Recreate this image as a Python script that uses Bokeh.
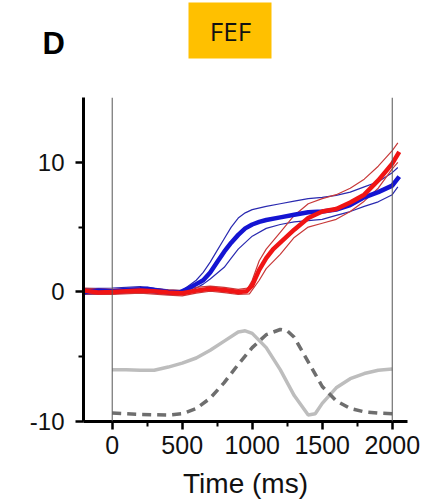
from bokeh.plotting import figure
from bokeh.models import Span, FixedTicker, Range1d, PrintfTickFormatter
from bokeh.layouts import column
from bokeh.core.properties import value
from bokeh.embed import file_html
from bokeh.resources import INLINE

# ---- data ----
blue_x = [-200, -100, 0, 100, 200, 250, 300, 400, 480, 550, 600, 650, 700, 750, 800, 850, 900, 950,
          1000, 1050, 1100, 1200, 1300, 1400, 1500, 1600, 1700, 1800, 1900, 2000, 2050]
blue_mean = [0.0, 0.1, 0.05, 0.15, 0.2, 0.25, 0.15, 0.0, -0.05, 0.3, 0.6, 0.9, 1.5, 2.3, 3.1, 3.8, 4.4, 4.9,
             5.2, 5.4, 5.55, 5.75, 5.95, 6.15, 6.2, 6.35, 6.7, 7.3, 7.7, 8.2, 8.9]

blue_up_x = [-200, 0, 200, 400, 500, 600, 650, 700, 750, 800, 850, 900, 950, 1000, 1100, 1200, 1300,
             1400, 1500, 1600, 1700, 1800, 1900, 2000, 2040]
blue_upper = [0.25, 0.3, 0.4, 0.15, 0.1, 0.9, 1.5, 2.3, 3.2, 4.1, 5.0, 5.7, 6.1, 6.35, 6.6, 6.8, 7.0,
              7.2, 7.3, 7.45, 7.7, 8.1, 8.5, 9.2, 9.6]

blue_lo_x = [-200, 0, 200, 400, 500, 600, 650, 700, 800, 850, 900, 1000, 1100, 1200, 1300, 1400, 1500,
             1600, 1700, 1800, 1900, 2000, 2040]
blue_lower = [-0.2, -0.15, 0.0, -0.2, -0.2, 0.3, 0.6, 1.0, 1.9, 2.6, 3.3, 4.3, 4.9, 5.2, 5.4, 5.5, 5.6,
              5.9, 6.2, 6.6, 6.95, 7.5, 8.1]

red_x = [-200, -100, 0, 100, 200, 300, 400, 500, 600, 700, 800, 900, 960, 1000, 1050, 1100, 1150, 1200,
         1300, 1400, 1500, 1600, 1700, 1800, 1900, 2000, 2050]
red_mean = [0.1, -0.05, 0.0, 0.05, 0.1, 0.05, -0.05, -0.1, 0.1, 0.25, 0.15, 0.0, 0.05, 0.5, 1.7, 2.6, 3.3, 3.8,
            4.8, 5.7, 6.2, 6.4, 6.9, 7.5, 8.6, 9.9, 10.8]

red_up_x = [-200, 0, 200, 400, 500, 600, 700, 800, 900, 970, 1000, 1050, 1100, 1200, 1300, 1400, 1500,
            1600, 1700, 1800, 1900, 2000, 2040]
red_upper = [0.3, 0.2, 0.3, 0.15, 0.1, 0.35, 0.45, 0.35, 0.2, 0.3, 0.9, 2.4, 3.3, 4.6, 5.9, 6.8, 7.2,
             7.5, 8.0, 8.7, 9.7, 10.9, 11.5]

red_lo_x = [-200, 0, 200, 400, 500, 600, 700, 800, 900, 980, 1050, 1100, 1200, 1300, 1400, 1500,
            1600, 1700, 1800, 1900, 2000, 2040]
red_lower = [-0.15, -0.2, -0.1, -0.25, -0.3, -0.1, 0.05, -0.05, -0.2, -0.15, 0.9, 1.8, 2.9, 4.2, 5.0, 5.3,
             5.6, 6.2, 7.0, 8.0, 9.5, 10.0]

gray_x = [0, 100, 200, 300, 400, 500, 600, 700, 800, 900, 950, 1000, 1100, 1200, 1300, 1400, 1450,
          1500, 1600, 1700, 1800, 1900, 2000]
gray_solid = [-6.0, -6.0, -6.05, -6.05, -5.8, -5.5, -5.1, -4.5, -3.8, -3.1, -3.0, -3.2, -4.3, -6.0, -8.0,
              -9.5, -9.4, -8.6, -7.4, -6.7, -6.3, -6.05, -5.95]

dash_x = [0, 200, 400, 500, 600, 700, 800, 900, 1000, 1100, 1200, 1250, 1300, 1400, 1500, 1600, 1700,
          1800, 1900, 2000]
gray_dashed = [-9.35, -9.45, -9.5, -9.4, -9.0, -8.2, -7.0, -5.6, -4.3, -3.3, -2.9, -3.0, -3.5, -5.4, -7.3,
               -8.4, -9.0, -9.25, -9.35, -9.4]

x_ticks = [0, 500, 1000, 1500, 2000]
x_minor = [250, 750, 1250, 1750]
y_ticks = [-10, 0, 10]
y_minor = [-5, 5]
event_times = [0, 2000]

panel_letter = "D"
area_name = "FEF"

FONT = "Liberation Sans"
W = 424
HEAD_H = 92

# ---- header (panel letter and area badge) ----
h = figure(frame_width=W, frame_height=HEAD_H, output_backend="svg", toolbar_location=None, title=None,
           x_range=Range1d(0, W), y_range=Range1d(HEAD_H, 0),
           x_axis_location=None, y_axis_location=None,
           min_border=0, min_border_left=0, min_border_right=0, min_border_top=0, min_border_bottom=0)
h.frame_align = False
h.outline_line_color = None
h.xgrid.visible = False
h.ygrid.visible = False
h.quad(left=[188], right=[271], top=[2], bottom=[58], fill_color="#FFC000", line_color=None)
h.text(x=[230], y=[30], text=[area_name], text_align="center", text_baseline="middle",
       text_font=value("Open Sans"), text_font_size="26px", text_color="#111111")
h.text(x=[42], y=[43], text=[panel_letter], text_align="left", text_baseline="alphabetic",
       text_font=value(FONT), text_font_size="31px", text_font_style="bold", text_color="black")

# ---- main plot ----
p = figure(width=W, height=504 - HEAD_H, output_backend="svg", toolbar_location=None, title=None,
           x_range=Range1d(-205, 2109), y_range=Range1d(-10, 15),
           min_border_left=83, min_border_right=17, min_border_top=97 - HEAD_H, min_border_bottom=83)
p.frame_align = False
p.outline_line_color = None
p.xgrid.visible = False
p.ygrid.visible = False

for t in event_times:
    p.add_layout(Span(location=t, dimension="height", line_color="#555555", line_width=1))

p.line(gray_x, gray_solid, line_color="#BDBDBD", line_width=3.5)
p.line(dash_x, gray_dashed, line_color="#6E6E6E", line_width=3.5, line_dash="9 6")

p.line(blue_up_x, blue_upper, line_color="#2A2AB0", line_width=1.2)
p.line(blue_lo_x, blue_lower, line_color="#2A2AB0", line_width=1.2)
p.line(red_up_x, red_upper, line_color="#C83A3A", line_width=1.2)
p.line(red_lo_x, red_lower, line_color="#C83A3A", line_width=1.2)
p.line(blue_x, blue_mean, line_color="#1414D2", line_width=4.5)
p.line(red_x, red_mean, line_color="#F01414", line_width=4.5)

for ax in (p.xaxis[0], p.yaxis[0]):
    ax.axis_line_width = 3
    ax.axis_line_color = "black"
    ax.major_tick_line_width = 2.5
    ax.major_tick_in = 0
    ax.major_tick_out = 8
    ax.minor_tick_line_width = 2
    ax.minor_tick_in = 0
    ax.minor_tick_out = 5
    ax.major_label_text_font = FONT
    ax.major_label_text_color = "#111111"
    ax.formatter = PrintfTickFormatter(format="%d")

p.xaxis[0].ticker = FixedTicker(ticks=x_ticks, minor_ticks=x_minor)
p.yaxis[0].ticker = FixedTicker(ticks=y_ticks, minor_ticks=y_minor)
p.xaxis[0].major_label_text_font_size = "25px"
p.yaxis[0].major_label_text_font_size = "24px"
p.xaxis[0].major_label_standoff = 6
p.yaxis[0].major_label_standoff = 11
p.xaxis[0].axis_label = "Time (ms)"
p.xaxis[0].axis_label_text_font = FONT
p.xaxis[0].axis_label_text_font_size = "28px"
p.xaxis[0].axis_label_text_font_style = "normal"
p.xaxis[0].axis_label_text_color = "#111111"
p.xaxis[0].axis_label_standoff = 11

layout = column(h, p, spacing=0)
open("out.html", "w").write(file_html(layout, INLINE))
